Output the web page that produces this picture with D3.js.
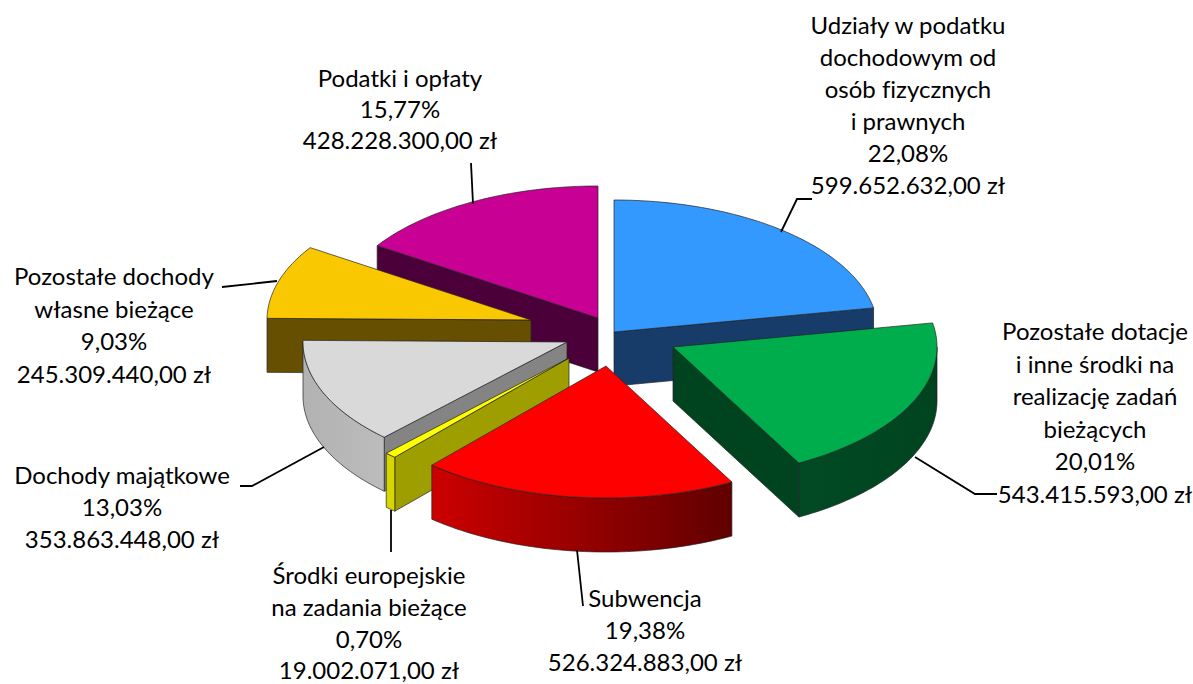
<!DOCTYPE html>
<html lang="pl">
<head>
<meta charset="utf-8">
<script src="https://cdn.jsdelivr.net/npm/d3@7/dist/d3.min.js"></script>
<style>
html,body{margin:0;padding:0;background:#fff;}
svg{display:block;}
text{font-family:Lato,"Open Sans",sans-serif;font-size:24px;fill:#000;text-anchor:middle;font-variant-ligatures:none;}
</style>
</head>
<body>
<svg id="chart" width="1193" height="684"></svg>
<script>
// Data
const categories = ["Udziały w podatku dochodowym", "Pozostałe dotacje", "Subwencja", "Środki europejskie", "Dochody majątkowe", "Pozostałe dochody własne", "Podatki i opłaty"];
const values = [599652632, 543415593, 526324883, 19002071, 353863448, 245309440, 428228300];
const percents = ["22,08%", "20,01%", "19,38%", "0,70%", "13,03%", "9,03%", "15,77%"];
const amounts = ["599.652.632,00 zł", "543.415.593,00 zł", "526.324.883,00 zł", "19.002.071,00 zł", "353.863.448,00 zł", "245.309.440,00 zł", "428.228.300,00 zł"];
const nameLines = [
  ["Udziały w podatku", "dochodowym od", "osób fizycznych", "i prawnych"],
  ["Pozostałe dotacje", "i inne środki na", "realizację zadań", "bieżących"],
  ["Subwencja"],
  ["Środki europejskie", "na zadania bieżące"],
  ["Dochody majątkowe"],
  ["Pozostałe dochody", "własne bieżące"],
  ["Podatki i opłaty"]
];

// Style and layout
const topColors = ["#3399ff", "#00ad4c", "#ff0000", "#ffff00", "#d9d9d9", "#fac800", "#c80094"];
const radialWallColors = ["#173c6a", "#00441f", "#660000", "#9e9e00", "#848484", "#664f00", "#4b003a"];
const outerWallStops = [
  ["#173c6a", "#173c6a"], ["#004a24", "#00441f"], ["#cc0000", "#600000"], ["#d6d600", "#d6d600"],
  ["#b2b2b2", "#bcbcbc"], ["#664f00", "#664f00"], ["#4b003a", "#4b003a"]
];
const apexX = [614, 673, 606, 569, 567, 531, 598];
const apexY = [332, 347, 366, 358, 342, 320, 318];
const paintOrder = [6, 0, 5, 4, 3, 2, 1];
const radiusX = 264, radiusY = 132, depth = 54;
const labelX = [908, 1095, 645, 369, 122, 114, 400];
const labelTop = [34, 340, 607, 584, 484, 285, 87];
const labelStep = [32, 32.6, 32, 31.8, 32, 32.5, 31];
const leaders = [
  [[781, 232], [797, 199], [812, 199]],
  [[915, 457], [975, 494], [997, 494]],
  [[577, 550], [583, 606]],
  [[391, 510], [391, 552]],
  [[324, 447], [252, 486], [240, 486]],
  [[277, 281], [222, 287]],
  [[471, 163], [473, 204]]
];

const svg = d3.select("#chart");
const defs = svg.append("defs");
const pie = d3.pie().sort(null)(values);
const sx = d3.scaleLinear().domain([-1, 1]).range([-radiusX, radiusX]);
const sy = d3.scaleLinear().domain([-1, 1]).range([radiusY, -radiusY]);
const line = d3.line();

function rim(i, a, b, dy) {
  const n = Math.max(2, Math.ceil((b - a) / 0.02));
  return d3.range(n + 1).map(k => {
    const t = a + (b - a) * k / n;
    return [apexX[i] + sx(Math.sin(t)), apexY[i] + sy(Math.cos(t)) + dy];
  });
}

paintOrder.forEach(i => {
  const a = pie[i].startAngle, b = pie[i].endAngle;
  const g = svg.append("g");
  const ax = apexX[i], ay = apexY[i];
  const wall = (t, c) => {
    const p = [ax + sx(Math.sin(t)), ay + sy(Math.cos(t))];
    g.append("path")
      .attr("d", line([[ax, ay], p, [p[0], p[1] + depth], [ax, ay + depth]]) + "Z")
      .attr("fill", c).attr("stroke", "#222").attr("stroke-width", 0.7).attr("stroke-linejoin", "round");
  };
  if (Math.sin(a) < 0) wall(a, radialWallColors[i]);
  if (Math.sin(b) > 0) wall(b, radialWallColors[i]);
  const fa = Math.max(a, Math.PI / 2), fb = Math.min(b, Math.PI * 1.5);
  if (fb > fa) {
    const upper = rim(i, fa, fb, 0), lower = rim(i, fa, fb, depth).reverse();
    const xs = upper.map(d => d[0]);
    const id = "wall" + i;
    const grad = defs.append("linearGradient").attr("id", id).attr("gradientUnits", "userSpaceOnUse")
      .attr("x1", d3.min(xs)).attr("x2", d3.max(xs)).attr("y1", 0).attr("y2", 0);
    grad.append("stop").attr("offset", 0).attr("stop-color", outerWallStops[i][0]);
    grad.append("stop").attr("offset", 1).attr("stop-color", outerWallStops[i][1]);
    g.append("path").attr("d", line(upper.concat(lower)) + "Z")
      .attr("fill", `url(#${id})`).attr("stroke", "#222").attr("stroke-width", 0.7).attr("stroke-linejoin", "round");
  }
  g.append("path").attr("d", line([[ax, ay]].concat(rim(i, a, b, 0))) + "Z")
    .attr("fill", topColors[i]).attr("stroke", "#222").attr("stroke-width", 0.7).attr("stroke-linejoin", "round");
});

svg.append("g").selectAll("path").data(leaders).join("path")
  .attr("d", d => line(d)).attr("fill", "none").attr("stroke", "#000").attr("stroke-width", 1.8);

categories.forEach((c, i) => {
  const rows = nameLines[i].concat([percents[i], amounts[i]]);
  const t = svg.append("text");
  rows.forEach((r, k) => t.append("tspan").attr("x", labelX[i]).attr("y", labelTop[i] + k * labelStep[i]).text(r));
});
</script>
</body>
</html>
